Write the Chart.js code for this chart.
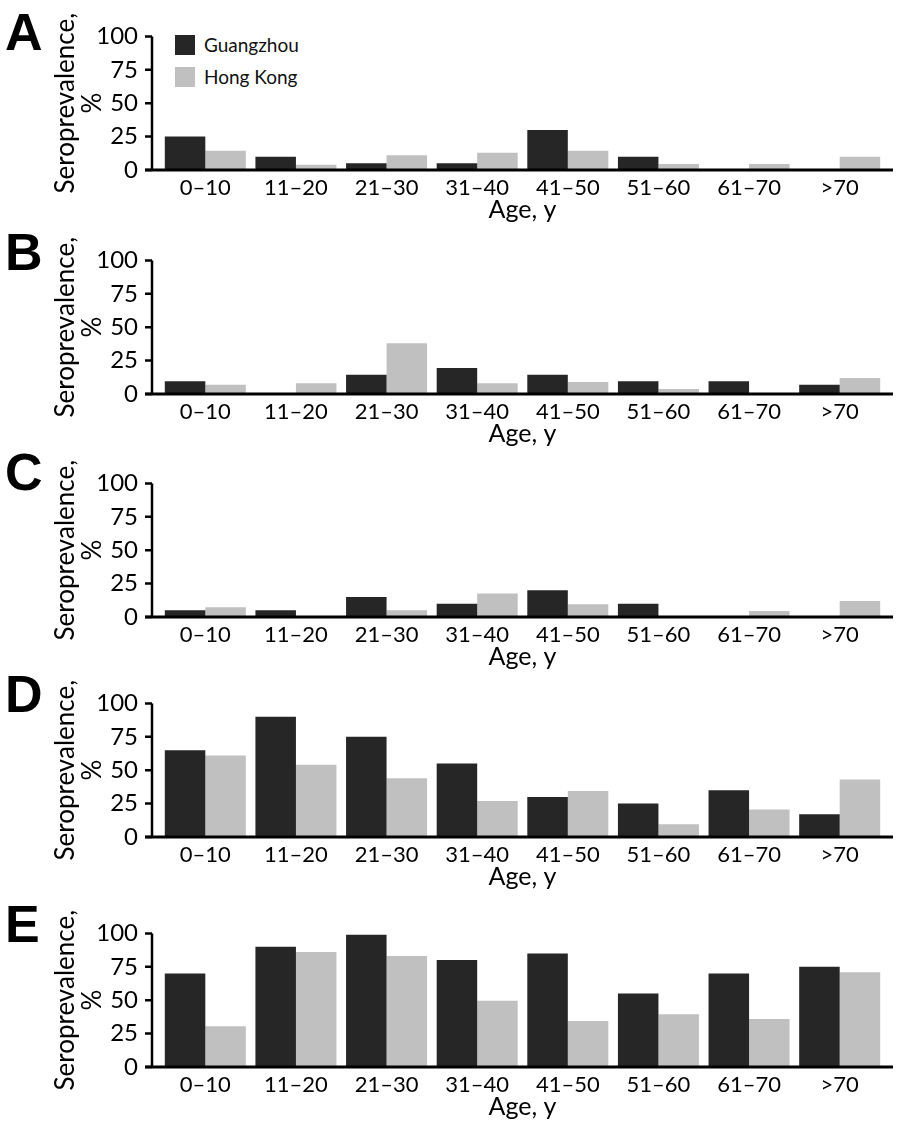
<!DOCTYPE html>
<html>
<head>
<meta charset="utf-8">
<script src="https://cdn.jsdelivr.net/npm/chart.js@4.4.1/dist/chart.umd.min.js"></script>
<style>
  body { margin: 0; background: #fff; font-family: Lato, sans-serif; }
  #wrap { position: relative; width: 900px; height: 1132px; }
  canvas { position: absolute; left: 0; }
  .letter { position: absolute; left: 5px; font: bold 52px "Liberation Sans", Arial, sans-serif; color: #000; line-height: 1; }
  .legend { position: absolute; left: 175px; top: 35px; font-size: 19px; color: #111; }
  .legend div { position: relative; height: 32px; line-height: 20px; padding-left: 29px; }
  .legend span { position: absolute; left: 0; top: 0; width: 20px; height: 20px; }
</style>
</head>
<body>
<div id="wrap">
  <div class="legend">
    <div><span style="background:#262626"></span>Guangzhou</div>
    <div><span style="background:#c0c0c0"></span>Hong Kong</div>
  </div>
</div>
<script>
// age groups on the x axis
const ageGroups = ["0–10", "11–20", "21–30", "31–40", "41–50", "51–60", "61–70", ">70"];
const yTicks = [0, 25, 50, 75, 100];

// seroprevalence (%) per panel, Guangzhou
const guangzhouA = [25, 10, 5, 5, 30, 10, 0, 0];
const guangzhouB = [9.5, 0, 14.5, 19.5, 14.5, 9.5, 9.5, 7];
const guangzhouC = [5, 5, 15, 10, 20, 10, 0, 0];
const guangzhouD = [65, 90, 75, 55, 30, 25, 35, 17];
const guangzhouE = [70, 90, 99, 80, 85, 55, 70, 75];

// seroprevalence (%) per panel, Hong Kong
const hongKongA = [14.5, 4, 11, 13, 14.5, 4.5, 4.5, 10];
const hongKongB = [7, 8, 38, 8, 9, 3.7, 0, 12];
const hongKongC = [7.3, 0, 5, 17.5, 9.5, 0, 4.5, 12];
const hongKongD = [61, 54, 44, 27, 34.5, 9.5, 20.5, 43];
const hongKongE = [30.5, 86, 83, 49.5, 34.5, 39.5, 36, 71];

const panels = [
  { letter: "A", top: 26, letterTop: 13, gz: guangzhouA, hk: hongKongA },
  { letter: "B", top: 250, letterTop: 233, gz: guangzhouB, hk: hongKongB },
  { letter: "C", top: 473, letterTop: 453, gz: guangzhouC, hk: hongKongC },
  { letter: "D", top: 693, letterTop: 675, gz: guangzhouD, hk: hongKongD },
  { letter: "E", top: 923, letterTop: 905, gz: guangzhouE, hk: hongKongE },
];

Chart.defaults.font.family = "Lato, sans-serif";
Chart.defaults.color = "#000";

// axis lines drawn a little outside the plotting area, like the original
const axisLines = {
  id: "axisLines",
  afterDraw(chart) {
    const ctx = chart.ctx;
    const area = chart.chartArea;
    const y = chart.scales.y;
    const x0 = area.left - 8;
    const base = y.getPixelForValue(0);
    ctx.save();
    ctx.strokeStyle = "#000";
    ctx.lineWidth = 2.5;
    ctx.beginPath();
    ctx.moveTo(x0, y.getPixelForValue(100));
    ctx.lineTo(x0, base);
    yTicks.forEach(function (t) {
      const py = y.getPixelForValue(t);
      ctx.moveTo(x0 - 7, py);
      ctx.lineTo(x0, py);
    });
    ctx.stroke();
    ctx.lineWidth = 3;
    ctx.beginPath();
    ctx.moveTo(x0 - 7, base);
    ctx.lineTo(area.right + 8, base);
    ctx.stroke();
    ctx.restore();
  },
};

const wrap = document.getElementById("wrap");

panels.forEach(function (p) {
  const canvas = document.createElement("canvas");
  canvas.width = 900;
  canvas.height = 230;
  canvas.style.top = (p.top - 26) + "px";
  wrap.appendChild(canvas);

  // cap top sits about 7px below the box top at this size
  const letter = document.createElement("div");
  letter.className = "letter";
  letter.textContent = p.letter;
  letter.style.top = (p.letterTop - 7) + "px";
  wrap.appendChild(letter);

  new Chart(canvas.getContext("2d"), {
    type: "bar",
    data: {
      labels: ageGroups,
      datasets: [
        { label: "Guangzhou", data: p.gz, backgroundColor: "#262626" },
        { label: "Hong Kong", data: p.hk, backgroundColor: "#c0c0c0" },
      ],
    },
    options: {
      responsive: false,
      animation: false,
      layout: { padding: { top: 26, right: 15, left: 0, bottom: 0 } },
      datasets: { bar: { barPercentage: 1, categoryPercentage: 0.894, borderWidth: 0 } },
      plugins: { legend: { display: false }, tooltip: { enabled: false } },
      scales: {
        x: {
          grid: { display: false, drawTicks: false },
          border: { display: false },
          ticks: { font: { size: 22 }, padding: 5, maxRotation: 0 },
          title: { display: true, text: "Age, y", font: { size: 25 }, padding: { top: 0, bottom: 5 } },
          afterFit: function (s) { s.height = 60; },
        },
        y: {
          min: 0,
          max: 100,
          grid: { display: false, drawTicks: false },
          border: { display: false },
          ticks: { stepSize: 25, font: { size: 24 }, padding: 22 },
          title: {
            display: true,
            text: ["Seroprevalence,", "%"],
            font: { size: 26, lineHeight: 1.05 },
            padding: { top: 52, bottom: 0 },
          },
          afterFit: function (s) { s.width = 160; },
        },
      },
    },
    plugins: [axisLines],
  });
});
</script>
</body>
</html>
